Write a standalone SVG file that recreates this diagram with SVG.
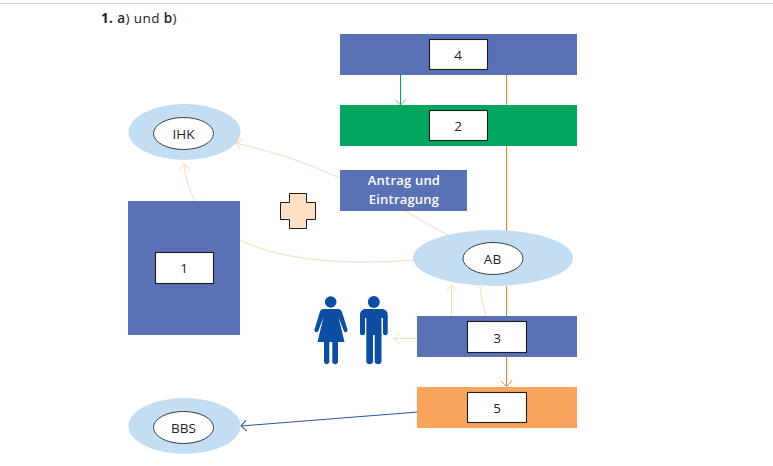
<svg xmlns="http://www.w3.org/2000/svg" width="773" height="466" viewBox="0 0 773 466">
<style>
text{font-family:"Open Sans","Noto Sans","Liberation Sans",sans-serif;fill:#1d1d2b;text-anchor:middle}
.lbl{font-size:13.500px}
.head{font-size:13.500px;font-weight:500;letter-spacing:.4px;text-anchor:start}
.wht{font-size:13px;font-weight:600;fill:#fff;letter-spacing:.2px}
.blue{fill:#5b71b5}
.halo{fill:#c3ddf3}
.box{fill:#fff;stroke:#1d1d1b;stroke-width:1.1}
.in{fill:#fff;stroke:#3c3c3c;stroke-width:1}
.c{fill:none;stroke-width:1}
.p{stroke:#fcd9b8}
.fig{fill:#0b4ea2}
</style>
<defs>
<marker id="ap" viewBox="-10 -6 12 12" markerWidth="12" markerHeight="12" refX="0" refY="0" orient="auto" markerUnits="userSpaceOnUse"><path d="M-5.500-5.500L0 0L-5.500 5.500" fill="none" stroke="#fcd9b8" stroke-width="1"/></marker>
<marker id="ag" viewBox="-10 -6 12 12" markerWidth="12" markerHeight="12" refX="0" refY="0" orient="auto" markerUnits="userSpaceOnUse"><path d="M-5.500-5.500L0 0L-5.500 5.500" fill="none" stroke="#55b98a" stroke-width="1"/></marker>
<marker id="ao" viewBox="-10 -6 12 12" markerWidth="12" markerHeight="12" refX="0" refY="0" orient="auto" markerUnits="userSpaceOnUse"><path d="M-5.500-5.500L0 0L-5.500 5.500" fill="none" stroke="#f28c3c" stroke-width="1"/></marker>
<marker id="ab" viewBox="-10 -6 12 12" markerWidth="12" markerHeight="12" refX="0" refY="0" orient="auto" markerUnits="userSpaceOnUse"><path d="M-5.500-5.500L0 0L-5.500 5.500" fill="none" stroke="#2a55a5" stroke-width="1"/></marker>
</defs>
<rect width="773" height="466" fill="#fff"/>
<rect x="0" y="3" width="773" height="1" fill="#d6d6d6"/>
<text class="head" x="101" y="23"><tspan font-weight="700">1.</tspan> <tspan font-weight="600">a</tspan>) und <tspan font-weight="600">b</tspan>)</text>

<g id="connectors">
<path class="c" d="M506.500 75V105M506.500 146V231M506.500 286V316" stroke="#f0801f"/>
<path class="c" d="M506.500 357V386.500" stroke="#f0801f" marker-end="url(#ao)"/>
<path class="c" d="M400.500 75V105" stroke="#00a05a" marker-end="url(#ag)"/>
<path class="c" d="M418 412L241 426" stroke="#2a55a5" marker-end="url(#ab)"/>
<path class="c p" d="M340 178Q290 155 236 143" marker-end="url(#ap)"/>
<path class="c p" d="M195 201Q186 184 184 164" marker-end="url(#ap)"/>
<path class="c p" d="M240 240C285 262 350 265 414 260"/>
<path class="c p" d="M405 211L449 236"/>
<path class="c p" d="M451.500 316V285" marker-end="url(#ap)"/>
<path class="c p" d="M480 286Q481 302 486 316"/>
<path class="c p" d="M417 338.500H394" marker-end="url(#ap)"/>
</g>

<g id="node-4"><rect class="blue" x="340" y="34" width="237" height="41"/><rect class="box" x="429.500" y="39.500" width="58" height="30"/><text class="lbl" x="458" y="60">4</text></g>
<g id="node-2"><rect fill="#00a65d" x="340" y="105" width="237" height="41"/><rect class="box" x="429.500" y="110.500" width="58" height="30"/><text class="lbl" x="458" y="131">2</text></g>
<g id="node-antrag"><rect class="blue" x="340" y="170" width="127" height="41"/><text class="wht" x="404" y="185">Antrag und</text><text class="wht" x="404" y="204">Eintragung</text></g>
<g id="node-ihk"><ellipse class="halo" cx="184.500" cy="132" rx="56" ry="28"/><ellipse class="in" cx="183.500" cy="133.500" rx="30" ry="16"/><text class="lbl" x="183.500" y="139">IHK</text></g>
<g id="node-1"><rect class="blue" x="128" y="201" width="112" height="134"/><rect class="box" x="155.500" y="252.500" width="58" height="31"/><text class="lbl" x="184" y="273">1</text></g>
<g id="node-cross"><path d="M289.500 193.500H306.500V202.500H315.500V219.500H306.500V228.500H289.500V219.500H280.500V202.500H289.500Z" fill="#fce0c5" stroke="#1d1d1b" stroke-width="1"/></g>
<g id="node-ab"><ellipse class="halo" cx="493" cy="258" rx="80" ry="28"/><ellipse class="in" cx="493" cy="258.500" rx="30" ry="16"/><text class="lbl" x="492.500" y="264">AB</text></g>
<g id="node-3"><rect class="blue" x="417" y="316" width="160" height="41"/><rect class="box" x="467.500" y="321.500" width="59" height="31"/><text class="lbl" x="497" y="342.500">3</text></g>
<g id="node-5"><rect fill="#f9a45c" x="417" y="387" width="160" height="41"/><rect class="box" x="467.500" y="392.500" width="59" height="30"/><text class="lbl" x="497" y="413">5</text></g>
<g id="node-bbs"><ellipse class="halo" cx="184.500" cy="426" rx="56" ry="28"/><ellipse class="in" cx="183.500" cy="427.500" rx="30" ry="16"/><text class="lbl" x="183.500" y="433">BBS</text></g>
<g id="node-people">
<g class="fig">
<circle cx="330.700" cy="302" r="5.800"/>
<path d="M323.500 309H338C340 309 341 310 342 312L347.500 329.500C348 332 345 333.500 343.800 331L338.500 317L344.500 342H338V361.500C338 365 332.500 365 332.300 361.500V342H329.300V361.500C329 365 324 365 324 361.500V342H317.500L323.500 317L318.300 331C317 333.500 314 332 314.500 329.500L319.800 312C320.500 310 321.500 309 323.500 309Z"/>
<circle cx="373.800" cy="302" r="6"/>
<path d="M366 309H381.500C385.500 309 387.700 311.500 387.700 315V333C387.700 336 383 336 383 333V318H381.500V361.500C381.500 365 374.700 365 374.700 361.500V335H373V361.500C373 365 366.300 365 366.300 361.500V318H365V333C365 336 360 336 360 333V315C360 311.500 362.300 309 366 309Z"/>
</g>
</g>
</svg>
